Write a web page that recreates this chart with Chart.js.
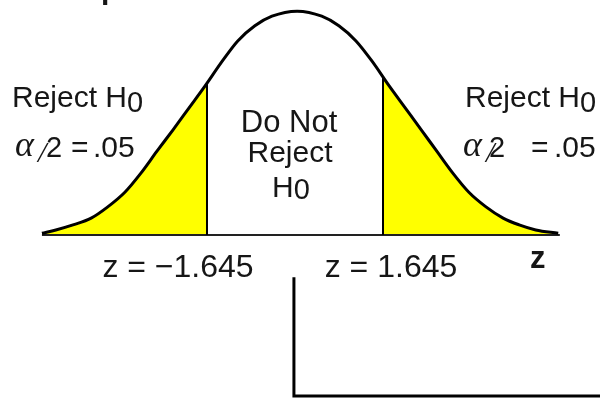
<!DOCTYPE html>
<html>
<head>
<meta charset="utf-8">
<script src="https://cdn.jsdelivr.net/npm/chart.js@4.4.0/dist/chart.umd.min.js"></script>
<style>
  html, body { margin: 0; padding: 0; background: #fff; }
  #wrap { width: 600px; height: 405px; position: relative; }
</style>
</head>
<body>
<div id="wrap"><canvas id="bellChart"></canvas></div>
<script>
// bell curve: z positions and heights (density)
var curveZ = [-4.73, -4.47, -4.15, -3.81, -3.50, -3.18, -2.88, -2.58, -2.28, -1.98, -1.68,
              -1.36, -1.07, -0.75, -0.43, 0.04, 0.50, 0.82, 1.14, 1.44,
              1.76, 2.06, 2.36, 2.65, 2.95, 3.25, 3.57, 3.89, 4.19, 4.50, 4.92];
var curveY = [0.003, 0.009, 0.018, 0.030, 0.050, 0.076, 0.110, 0.149, 0.187, 0.226, 0.265,
              0.309, 0.345, 0.372, 0.389, 0.398, 0.389, 0.372, 0.345, 0.309,
              0.265, 0.226, 0.187, 0.149, 0.110, 0.076, 0.050, 0.030, 0.018, 0.009, 0.003];

// critical values and curve height there
var critZ = [-1.645, 1.645];
var critY = [0.270, 0.281];

// z axis line
var axisZ = [-4.73, 4.95];

// bracket line below the axis
var bracketZ = [-0.02, -0.02, 5.8];
var bracketY = [-0.075, -0.286, -0.286];

function pts(xs, ys) {
    return xs.map(function (x, i) { return { x: x, y: ys[i] }; });
}

var curve = pts(curveZ, curveY);
var leftTail = curve.filter(function (p) { return p.x <= critZ[0]; })
    .concat([{ x: critZ[0], y: critY[0] }]);
var rightTail = [{ x: critZ[1], y: critY[1] }]
    .concat(curve.filter(function (p) { return p.x >= critZ[1]; }));

var font = '"Liberation Sans", Arial, sans-serif';
var serif = '"Liberation Serif", "Times New Roman", serif';

// text on the drawing (pixel positions, baseline)
var notes = [
    { text: 'Reject H', sub: '0', x: 12, y: 107, size: 30 },
    { text: 'Reject H', sub: '0', x: 465, y: 107, size: 30 },
    { text: '\u03b1', x: 15, y: 156, size: 36, family: serif, style: 'italic ' },
    { text: '/', x: 38, y: 162, size: 30, family: serif, style: 'italic ' },
    { text: '2', x: 46, y: 157, size: 29 },
    { text: '=', x: 71, y: 157, size: 30 },
    { text: '.05', x: 93, y: 157, size: 30 },
    { text: '\u03b1', x: 463, y: 156, size: 36, family: serif, style: 'italic ' },
    { text: '/', x: 486, y: 162, size: 30, family: serif, style: 'italic ' },
    { text: '2', x: 489, y: 157, size: 29 },
    { text: '=', x: 531, y: 157, size: 30 },
    { text: '.05', x: 554, y: 157, size: 30 },
    { text: 'Do Not', x: 289, y: 132, size: 31, align: 'center' },
    { text: 'Reject', x: 290, y: 162, size: 30, align: 'center' },
    { text: 'H', sub: '0', x: 291, y: 197, size: 30, align: 'center', drop: 2 },
    { text: 'z = \u22121.645', x: 178, y: 277, size: 32, align: 'center' },
    { text: 'z = 1.645', x: 391, y: 277, size: 32, align: 'center' },
    { text: 'z', x: 530, y: 268, size: 31, style: 'bold ' },
    { text: 'p', x: 101, y: -1, size: 30, style: 'bold ' }
];

var notesPlugin = {
    id: 'notes',
    afterDraw: function (chart) {
        var ctx = chart.ctx;
        ctx.save();
        ctx.fillStyle = '#161616';
        ctx.textBaseline = 'alphabetic';
        ctx.textAlign = 'left';
        notes.forEach(function (n) {
            var f = (n.style || '') + n.size + 'px ' + (n.family || font);
            var fs = (n.size - 1) + 'px ' + font;
            ctx.font = f;
            var w = ctx.measureText(n.text).width;
            var ws = 0;
            if (n.sub) {
                ctx.font = fs;
                ws = ctx.measureText(n.sub).width;
            }
            var x = n.x;
            if (n.align === 'center') x = n.x - (w + ws) / 2;
            ctx.font = f;
            ctx.fillText(n.text, x, n.y);
            if (n.sub) {
                ctx.font = fs;
                ctx.fillText(n.sub, x + w, n.y + (n.drop || 5));
            }
        });
        ctx.restore();
    }
};

var cv = document.getElementById('bellChart').getContext('2d');
var myChart = new Chart(cv, {
    type: 'scatter',
    data: {
        datasets: [
            {
                data: curve,
                showLine: true,
                borderColor: '#000',
                borderWidth: 3,
                cubicInterpolationMode: 'monotone',
                pointRadius: 0,
                fill: false,
                order: 0
            },
            {
                data: [{ x: critZ[0], y: 0 }, { x: critZ[0], y: critY[0] }, { x: null, y: null },
                       { x: critZ[1], y: 0 }, { x: critZ[1], y: critY[1] }],
                showLine: true,
                spanGaps: false,
                borderColor: '#000',
                borderWidth: 2,
                pointRadius: 0,
                fill: false,
                order: 1
            },
            {
                data: axisZ.map(function (z) { return { x: z, y: 0 }; }),
                showLine: true,
                borderColor: '#222',
                borderWidth: 2,
                pointRadius: 0,
                fill: false,
                order: 1
            },
            {
                data: pts(bracketZ, bracketY),
                showLine: true,
                borderColor: '#000',
                borderWidth: 3,
                borderJoinStyle: 'miter',
                pointRadius: 0,
                fill: false,
                order: 1
            },
            {
                data: leftTail,
                showLine: true,
                borderWidth: 0,
                borderColor: 'rgba(0,0,0,0)',
                backgroundColor: '#ffff00',
                cubicInterpolationMode: 'monotone',
                pointRadius: 0,
                fill: 'origin',
                order: 2
            },
            {
                data: rightTail,
                showLine: true,
                borderWidth: 0,
                borderColor: 'rgba(0,0,0,0)',
                backgroundColor: '#ffff00',
                cubicInterpolationMode: 'monotone',
                pointRadius: 0,
                fill: 'origin',
                order: 2
            }
        ]
    },
    options: {
        responsive: true,
        maintainAspectRatio: false,
        animation: false,
        events: [],
        layout: { padding: 0 },
        scales: {
            x: { type: 'linear', min: -295 / 53.5, max: 305 / 53.5, display: false },
            y: { type: 'linear', min: -170 / 562.5, max: 235 / 562.5, display: false }
        },
        plugins: {
            legend: { display: false },
            tooltip: { enabled: false },
            title: { display: false }
        }
    },
    plugins: [notesPlugin]
});
</script>
</body>
</html>
